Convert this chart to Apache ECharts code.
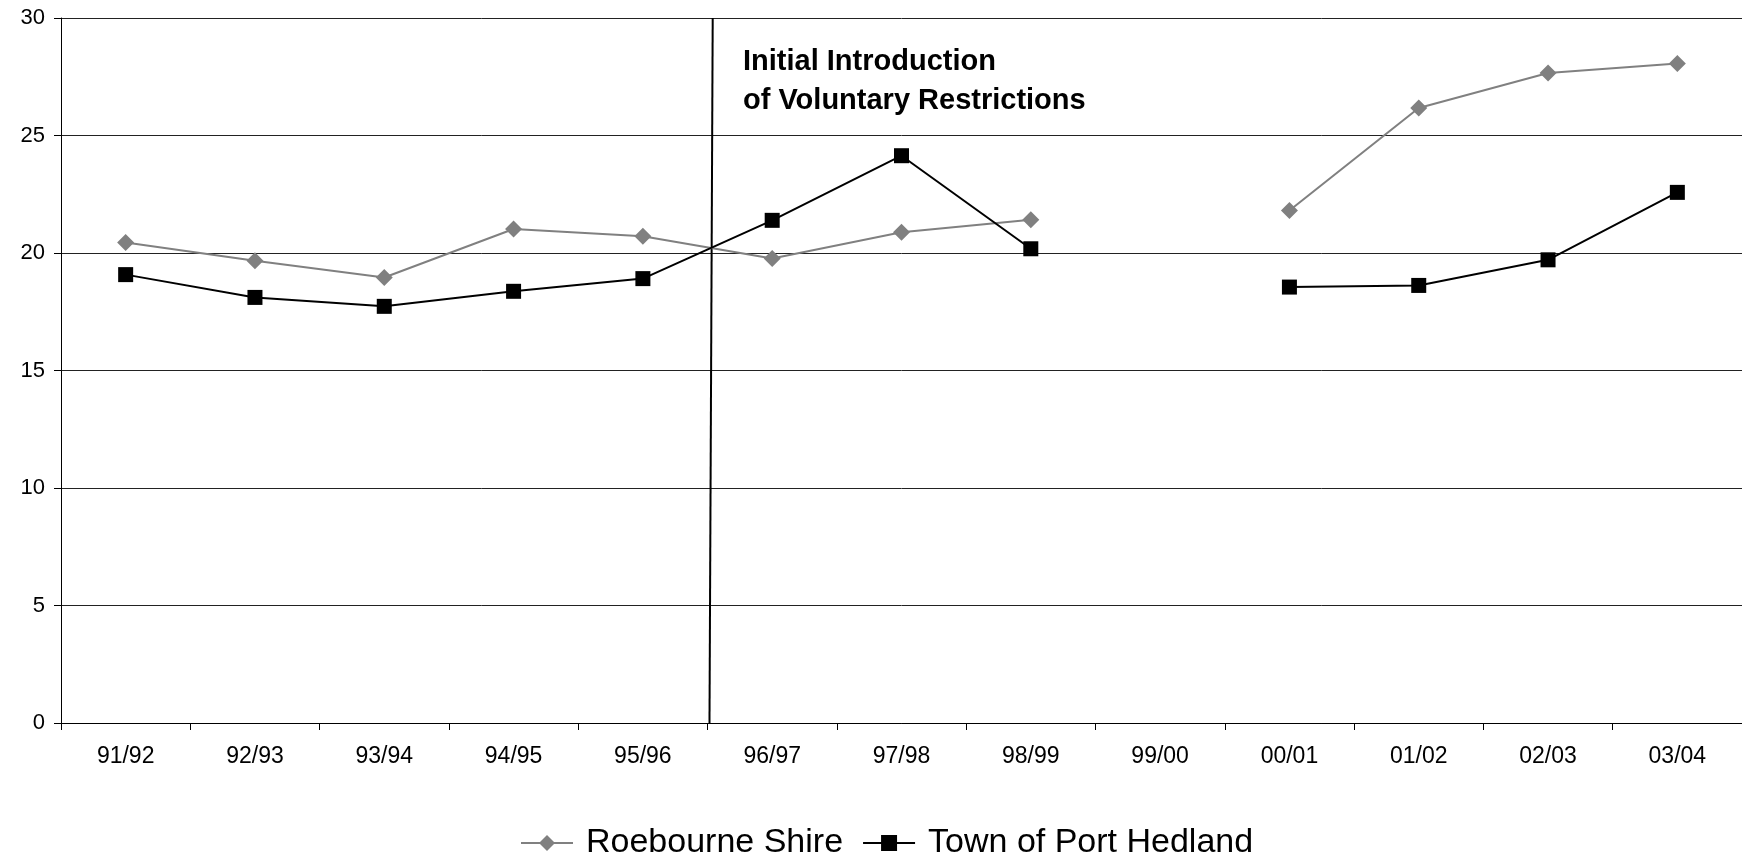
<!DOCTYPE html>
<html>
<head>
<meta charset="utf-8">
<script src="https://cdn.jsdelivr.net/npm/echarts@6/dist/echarts.min.js"></script>
<style>
html,body{margin:0;padding:0;background:#fff;}
#chart{width:1742px;height:857px;}
</style>
</head>
<body>
<div id="chart"></div>
<script>
const categories = ['91/92','92/93','93/94','94/95','95/96','96/97','97/98','98/99','99/00','00/01','01/02','02/03','03/04'];
const roebourne = [20.45, 19.67, 18.96, 21.02, 20.71, 19.77, 20.88, 21.42, null, 21.81, 26.17, 27.66, 28.06];
const portHedland = [19.08, 18.11, 17.73, 18.37, 18.91, 21.39, 24.14, 20.18, null, 18.55, 18.62, 19.71, 22.58];
const yTicks = { min: 0, max: 30, interval: 5 };
// annotation: boundary between 95/96 and 96/97 (category index units), slightly slanted as in the source
const restrictionLine = [[4.54, 30], [4.515, 0]];
const annotationText = 'Initial Introduction\nof Voluntary Restrictions';

const FONT = '"Liberation Sans", Arial, sans-serif';
const chart = echarts.init(document.getElementById('chart'));
chart.setOption({
  animation: false,
  backgroundColor: '#fff',
  grid: { left: 61, top: 18, right: 0, bottom: 134, containLabel: false },
  legend: {
    data: ['Roebourne Shire', 'Town of Port Hedland'],
    left: 515, top: 821,
    itemWidth: 52, itemHeight: 20, itemGap: 19,
    textStyle: { fontFamily: FONT, fontSize: 34, color: '#000', padding: [0, 0, 0, 8] }
  },
  xAxis: [{
    type: 'category', data: categories, boundaryGap: true,
    axisLine: { lineStyle: { color: '#000', width: 1 } },
    axisTick: { show: true, length: 7, lineStyle: { color: '#000' } },
    axisLabel: { fontFamily: FONT, fontSize: 23, color: '#000', margin: 22 },
    splitLine: { show: false }
  }, {
    type: 'value', min: -0.5, max: 12.5, show: false
  }],
  yAxis: {
    type: 'value', min: yTicks.min, max: yTicks.max, interval: yTicks.interval,
    axisLine: { show: true, onZero: false, lineStyle: { color: '#000', width: 1 } },
    axisTick: { show: true, length: 7, lineStyle: { color: '#000' } },
    axisLabel: { fontFamily: FONT, fontSize: 22, color: '#000', margin: 16 },
    splitLine: { show: true, lineStyle: { color: '#222', width: 1 } }
  },
  series: [{
    name: 'Roebourne Shire', type: 'line', data: roebourne,
    symbol: 'diamond', symbolSize: 17,
    itemStyle: { color: '#808080' },
    lineStyle: { color: '#808080', width: 2 },
    connectNulls: false, z: 3
  }, {
    name: 'Town of Port Hedland', type: 'line', data: portHedland,
    symbol: 'rect', symbolSize: 15,
    itemStyle: { color: '#000' },
    lineStyle: { color: '#000', width: 2 },
    connectNulls: false, z: 4
  }, {
    name: 'restriction', type: 'line', xAxisIndex: 1,
    data: restrictionLine, symbol: 'none',
    lineStyle: { color: '#000', width: 2 }, z: 2, silent: true
  }],
  graphic: [{
    type: 'text', left: 743, top: 42,
    style: {
      text: annotationText, fill: '#000',
      font: 'bold 29px ' + FONT, lineHeight: 39
    }
  }]
});
</script>
</body>
</html>
